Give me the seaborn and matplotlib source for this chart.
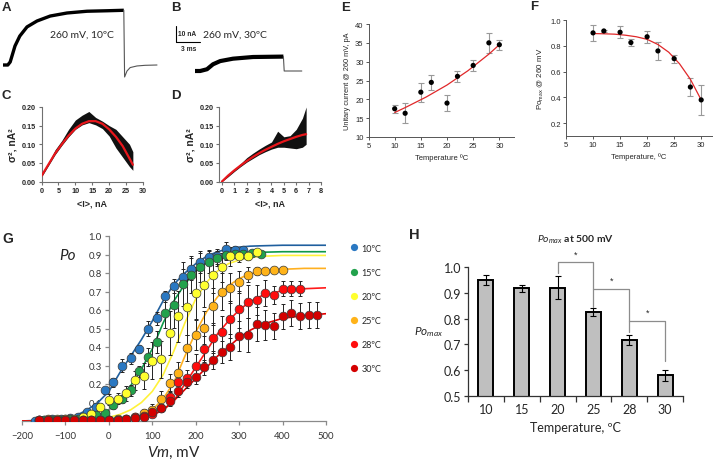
import matplotlib
matplotlib.use("Agg")
import matplotlib.pyplot as plt
from matplotlib.lines import Line2D
import seaborn as sns

# ---------------- data ----------------
# A / B: current traces (ms, nA)
a_time = [0, 0.6, 0.9, 1.5, 2.1, 3, 4.25, 5.9, 8, 10.5, 13, 15.1]
a_curr = [0, 0, 1.9, 11.9, 18.1, 23.8, 27.5, 30.6, 32.5, 33.6, 33.9, 34.2]
a_tail_time = [15.1, 15.2, 15.5, 15.9, 16.75, 17.75, 19.25]
a_tail_curr = [34.2, -7.5, -3.75, -1.6, -0.6, -0.2, 0]
b_time = [3.75, 4.4, 5.25, 6, 6.9, 8.5, 11, 14.8]
b_curr = [0, 0, 1.1, 4.2, 6.2, 7.7, 8.75, 9.0]
b_tail_time = [14.8, 14.9, 17.1]
b_tail_curr = [9.0, 0, 0]

# C / D: variance vs mean current
c_mean = [0, 2, 4, 6, 8, 10, 12, 14, 16, 18, 20, 22, 24, 26, 27]
c_lo = [0.012, 0.042, 0.072, 0.097, 0.12, 0.14, 0.152, 0.158, 0.152, 0.142, 0.122, 0.09, 0.065, 0.04, 0.03]
c_hi = [0.018, 0.05, 0.085, 0.11, 0.14, 0.165, 0.178, 0.188, 0.172, 0.162, 0.15, 0.14, 0.12, 0.10, 0.08]
c_fit = [0.015, 0.045, 0.075, 0.10, 0.123, 0.142, 0.155, 0.162, 0.162, 0.155, 0.14, 0.12, 0.095, 0.062, 0.045]
d_mean = [0, 0.5, 1, 1.5, 2, 2.5, 3, 3.5, 4, 4.5, 5, 5.5, 6, 6.5, 6.8]
d_lo = [0.0, 0.013, 0.027, 0.04, 0.052, 0.062, 0.072, 0.08, 0.087, 0.092, 0.092, 0.09, 0.088, 0.092, 0.10]
d_hi = [0.004, 0.019, 0.033, 0.048, 0.064, 0.076, 0.087, 0.097, 0.106, 0.135, 0.12, 0.123, 0.14, 0.17, 0.20]
d_fit = [0.0, 0.016, 0.03, 0.043, 0.055, 0.066, 0.076, 0.085, 0.093, 0.101, 0.108, 0.114, 0.12, 0.125, 0.127]

# E: unitary current vs temperature
e_temp = [10, 12, 15, 17, 20, 22, 25, 28, 30]
e_curr = [17.5, 16.3, 21.9, 24.5, 19.0, 26.1, 29.0, 35.0, 34.5]
e_err = [1.0, 2.7, 2.5, 2.0, 2.2, 1.4, 1.5, 2.6, 1.3]
e_fit_t = [10, 12, 14, 16, 18, 20, 22, 24, 26, 28, 30]
e_fit = [16.5, 17.8, 19.2, 20.6, 22.2, 23.8, 25.7, 27.6, 29.8, 32.0, 34.5]

# F: Po max vs temperature
f_temp = [10, 12, 15, 17, 20, 22, 25, 28, 30]
f_po = [0.90, 0.915, 0.905, 0.825, 0.87, 0.76, 0.70, 0.48, 0.38]
f_err = [0.065, 0.01, 0.045, 0.03, 0.045, 0.07, 0.03, 0.07, 0.115]
f_fit_t = [10, 12, 14, 16, 18, 20, 22, 24, 26, 28, 30]
f_fit = [0.895, 0.893, 0.89, 0.882, 0.87, 0.85, 0.81, 0.75, 0.66, 0.54, 0.38]

# G: Po-V curves
g_labels = ["10ºC", "15ºC", "20ºC", "25ºC", "28ºC", "30ºC"]
g_colors = ["#2A78C2", "#22A24C", "#FFFF2E", "#FFB319", "#FF0D0D", "#D40000"]
g_line_colors = ["#1F5F9E", "#0E9A49", "#FFF23A", "#FFB020", "#FF1A1A", "#E00000"]
g_vm = [
    list(range(-170, 311, 20)),
    list(range(-150, 351, 20)),
    list(range(-160, 341, 20)),
    list(range(-160, 401, 20)),
    list(range(-160, 441, 20)),
    list(range(-160, 481, 20)),
]
g_po = [
    [0.0, 0.005, 0.01, 0.01, 0.015, 0.02, 0.05, 0.075, 0.165, 0.21, 0.30, 0.34, 0.39,
     0.50, 0.555, 0.675, 0.73, 0.78, 0.82, 0.86, 0.885, 0.89, 0.93, 0.925, 0.925],
    [0.005, 0.005, 0.005, 0.01, 0.01, 0.015, 0.03, 0.045, 0.085, 0.12, 0.165, 0.27, 0.345,
     0.425, 0.585, 0.625, 0.74, 0.79, 0.83, 0.86, 0.88, 0.90, 0.905, 0.905, 0.91, 0.905],
    [0.005, 0.005, 0.01, 0.01, 0.01, 0.02, 0.04, 0.075, 0.115, 0.12, 0.15, 0.22, 0.245,
     0.325, 0.335, 0.475, 0.565, 0.615, 0.69, 0.735, 0.79, 0.83, 0.89, 0.89, 0.89, 0.915],
    [0.005, 0.01, 0.005, 0.01, 0.005, 0.005, 0.005, 0.005, 0.005, 0.01, 0.01, 0.02, 0.045,
     0.06, 0.12, 0.205, 0.26, 0.395, 0.465, 0.505, 0.62, 0.70, 0.72, 0.75, 0.79, 0.81,
     0.81, 0.815, 0.815],
    [0.005, 0.005, 0.005, 0.005, 0.005, 0.005, 0.005, 0.005, 0.005, 0.005, 0.01, 0.02,
     0.025, 0.04, 0.07, 0.13, 0.21, 0.235, 0.30, 0.39, 0.45, 0.48, 0.55, 0.605, 0.645,
     0.655, 0.69, 0.68, 0.715, 0.715, 0.715],
    [0.005, 0.005, 0.005, 0.005, 0.005, 0.005, 0.005, 0.005, 0.005, 0.005, 0.01, 0.015,
     0.02, 0.05, 0.07, 0.11, 0.16, 0.21, 0.24, 0.29, 0.33, 0.375, 0.40, 0.46, 0.465,
     0.525, 0.52, 0.515, 0.565, 0.585, 0.57, 0.575, 0.575],
]
g_err = [
    [0, 0.005, 0.005, 0.005, 0.01, 0.01, 0.015, 0.02, 0.02, 0.025, 0.035, 0.03, 0.02,
     0.04, 0.035, 0.03, 0.04, 0.04, 0.06, 0.06, 0.04, 0.04, 0.04, 0.02, 0.01],
    [0.005, 0.005, 0.005, 0.005, 0.005, 0.005, 0.01, 0.01, 0.02, 0.02, 0.03, 0.03, 0.05,
     0.06, 0.08, 0.12, 0.12, 0.10, 0.08, 0.06, 0.04, 0.03, 0.02, 0.01, 0.01, 0.01],
    [0.005, 0.005, 0.005, 0.01, 0.01, 0.01, 0.015, 0.02, 0.03, 0.03, 0.04, 0.05, 0.07,
     0.10, 0.10, 0.12, 0.14, 0.15, 0.14, 0.12, 0.10, 0.08, 0.05, 0.03, 0.02, 0.01],
    [0.005, 0.005, 0.005, 0.005, 0.005, 0.005, 0.005, 0.005, 0.005, 0.005, 0.01, 0.01,
     0.02, 0.03, 0.04, 0.05, 0.06, 0.07, 0.08, 0.09, 0.10, 0.10, 0.08, 0.06, 0.04, 0.02,
     0.01, 0.01, 0.01],
    [0.005, 0.005, 0.005, 0.005, 0.005, 0.005, 0.005, 0.005, 0.005, 0.005, 0.01, 0.01,
     0.01, 0.02, 0.02, 0.03, 0.03, 0.04, 0.06, 0.07, 0.08, 0.09, 0.10, 0.10, 0.09, 0.08,
     0.07, 0.05, 0.04, 0.04, 0.04],
    [0.005, 0.005, 0.005, 0.005, 0.005, 0.005, 0.005, 0.005, 0.005, 0.005, 0.01, 0.01,
     0.01, 0.02, 0.02, 0.03, 0.03, 0.03, 0.04, 0.04, 0.05, 0.06, 0.07, 0.08, 0.09, 0.09,
     0.08, 0.07, 0.07, 0.07, 0.07, 0.07, 0.07],
]
fit_vm = [-200, -150, -100, -75, -50, -25, 0, 25, 50, 75, 100, 125, 150, 175, 200, 225,
          250, 275, 300, 325, 350, 400, 450, 500]
g_fit = [
    [0.0, 0.005, 0.015, 0.03, 0.06, 0.10, 0.16, 0.26, 0.35, 0.44, 0.54, 0.65, 0.74, 0.80,
     0.85, 0.89, 0.915, 0.93, 0.94, 0.945, 0.947, 0.95, 0.95, 0.95],
    [0.0, 0.002, 0.005, 0.008, 0.015, 0.03, 0.06, 0.12, 0.19, 0.28, 0.39, 0.53, 0.65, 0.74,
     0.81, 0.855, 0.88, 0.895, 0.905, 0.91, 0.912, 0.915, 0.915, 0.915],
    [0.0, 0.001, 0.003, 0.005, 0.008, 0.012, 0.02, 0.035, 0.06, 0.10, 0.16, 0.25, 0.38,
     0.53, 0.66, 0.75, 0.81, 0.85, 0.87, 0.885, 0.89, 0.895, 0.895, 0.895],
    [0.0, 0.0, 0.001, 0.002, 0.003, 0.004, 0.005, 0.008, 0.015, 0.03, 0.06, 0.12, 0.21,
     0.35, 0.48, 0.59, 0.67, 0.73, 0.77, 0.795, 0.81, 0.82, 0.825, 0.825],
    [0.0, 0.0, 0.001, 0.001, 0.002, 0.002, 0.003, 0.005, 0.01, 0.018, 0.03, 0.06, 0.11,
     0.20, 0.29, 0.38, 0.47, 0.54, 0.60, 0.645, 0.675, 0.705, 0.715, 0.72],
    [0.0, 0.0, 0.001, 0.001, 0.002, 0.002, 0.003, 0.005, 0.01, 0.018, 0.035, 0.06, 0.11,
     0.17, 0.23, 0.29, 0.35, 0.40, 0.45, 0.49, 0.52, 0.555, 0.57, 0.58],
]

# H: Po max at 500 mV
h_temp = ["10", "15", "20", "25", "28", "30"]
h_po = [0.95, 0.917, 0.92, 0.826, 0.718, 0.58]
h_err = [0.02, 0.012, 0.045, 0.017, 0.02, 0.022]

# ---------------- figure ----------------
sns.set_style("ticks")
plt.rcParams["font.family"] = ["Liberation Sans", "DejaVu Sans"]
plt.rcParams["mathtext.fontset"] = "custom"
plt.rcParams["mathtext.rm"] = "Lato"
plt.rcParams["mathtext.it"] = "Lato:italic"
plt.rcParams["mathtext.bf"] = "Lato:bold"

W, H = 713, 464
fig = plt.figure(figsize=(W / 100, H / 100), dpi=100)


def rect(l, t, r, b):
    return [l / W, 1 - b / H, (r - l) / W, (b - t) / H]


def style(ax, color, lw=0.8, size=5, length=2.5):
    sns.despine(ax=ax)
    for s in ("left", "bottom"):
        ax.spines[s].set_color(color)
        ax.spines[s].set_linewidth(lw)
    ax.tick_params(color=color, width=lw, length=length, pad=1.5, labelsize=size)


def letter(x, y, s, size=9.5):
    fig.text(x / W, 1 - y / H, s, fontsize=size, fontweight="bold", va="top", ha="left")


# A
axA = fig.add_axes(rect(0, 0, 165, 90))
axA.set_xlim(-0.375, 20.25)
axA.set_ylim(-15, 41.25)
axA.axis("off")
axA.plot(a_time, a_curr, color="black", lw=2.4, solid_capstyle="butt")
axA.plot(a_tail_time, a_tail_curr, color="#555555", lw=0.8)
axA.text(9.9, 19.4, "260 mV, 10ºC", fontsize=7.5, family="Lato", ha="center", va="center")

# B
axB = fig.add_axes(rect(165, 0, 310, 90))
axB.set_xlim(0, 18.125)
axB.set_ylim(-11.25, 45)
axB.axis("off")
axB.plot(b_time, b_curr, color="black", lw=3.0, solid_capstyle="butt")
axB.plot(b_tail_time, b_tail_curr, color="#555555", lw=0.8)
axB.plot([1.375, 1.375, 4.375], [28.1, 18.1, 18.1], color="black", lw=0.8)
axB.text(1.6, 23.6, "10 nA", fontsize=4.8, fontweight="bold", va="center")
axB.text(2.9, 14.2, "3 ms", fontsize=4.8, fontweight="bold", va="center", ha="center")
axB.text(8.75, 23.1, "260 mV, 30ºC", fontsize=7.5, family="Lato", ha="center", va="center")

letter(2, 2, "A")
letter(171, 2, "B")

# C
axC = fig.add_axes(rect(41.5, 108, 143, 182.5))
axC.fill_between(c_mean, c_lo, c_hi, color="#111111", lw=0)
sns.lineplot(x=c_mean, y=c_fit, ax=axC, color="#E8161B", lw=1.6, zorder=3)
axC.set_xlim(0, 30)
axC.set_ylim(0, 0.2)
axC.set_xticks(range(0, 31, 5))
axC.set_yticks([0, 0.05, 0.10, 0.15, 0.20])
axC.set_yticklabels(["0.00", "0.05", "0.10", "0.15", "0.20"])
style(axC, "#707070", size=5.2)
for t in axC.get_xticklabels() + axC.get_yticklabels():
    t.set_fontweight("bold")
axC.set_xlabel("<I>, nA", fontsize=6.5, fontweight="bold", labelpad=3)
axC.set_ylabel("σ², nA²", fontsize=7.5, fontweight="bold", labelpad=3)
letter(2, 90, "C")

# D
axD = fig.add_axes(rect(219.5, 108, 321, 182.5))
axD.fill_between(d_mean, d_lo, d_hi, color="#111111", lw=0)
sns.lineplot(x=d_mean, y=d_fit, ax=axD, color="#E8161B", lw=1.6, zorder=3)
axD.set_xlim(-0.2, 8)
axD.set_ylim(0, 0.2)
axD.set_xticks(range(0, 9))
axD.set_yticks([0, 0.05, 0.10, 0.15, 0.20])
axD.set_yticklabels(["0.00", "0.05", "0.10", "0.15", "0.20"])
style(axD, "#707070", size=5.2)
for t in axD.get_xticklabels() + axD.get_yticklabels():
    t.set_fontweight("bold")
axD.set_xlabel("<I>, nA", fontsize=6.5, fontweight="bold", labelpad=3)
axD.set_ylabel("σ², nA²", fontsize=7.5, fontweight="bold", labelpad=3)
letter(171, 90, "D")

# E
axE = fig.add_axes(rect(368.5, 25, 514, 138))
axE.errorbar(e_temp, e_curr, yerr=e_err, fmt="none", ecolor="#999999", elinewidth=0.8,
             capsize=2, capthick=0.8, zorder=1)
sns.lineplot(x=e_fit_t, y=e_fit, ax=axE, color="#E0282A", lw=0.9, zorder=2)
sns.scatterplot(x=e_temp, y=e_curr, ax=axE, color="black", s=14, edgecolor="none", zorder=3)
axE.set_xlim(5, 32.8)
axE.set_ylim(10, 40)
axE.set_xticks(range(5, 31, 5))
axE.set_yticks(range(10, 41, 5))
style(axE, "#555555", lw=0.7, size=5.5, length=2)
axE.set_xlabel("Temperature ºC", fontsize=5.5, labelpad=3)
axE.set_ylabel("Unitary current @ 260 mV, pA", fontsize=5.3, labelpad=3)
letter(341, 2, "E")

# F
axF = fig.add_axes(rect(566, 21, 712, 137))
axF.errorbar(f_temp, f_po, yerr=f_err, fmt="none", ecolor="#999999", elinewidth=0.8,
             capsize=2, capthick=0.8, zorder=1)
sns.lineplot(x=f_fit_t, y=f_fit, ax=axF, color="#E0282A", lw=0.9, zorder=2)
sns.scatterplot(x=f_temp, y=f_po, ax=axF, color="black", s=14, edgecolor="none", zorder=3)
axF.set_xlim(5, 32)
axF.set_ylim(0.1, 1.0)
axF.set_xticks(range(5, 31, 5))
axF.set_yticks([0.2, 0.4, 0.6, 0.8, 1.0])
style(axF, "#555555", lw=0.7, size=5.5, length=2)
axF.set_xlabel("Temperature, ºC", fontsize=5.5, labelpad=3)
axF.set_ylabel("Po$_{\\rm max}$ @ 260 mV", fontsize=5.8, labelpad=3)
letter(530, 1, "F")

# G
axG = fig.add_axes(rect(22, 237, 326, 422))
for i in range(6):
    sns.lineplot(x=fit_vm, y=g_fit[i], ax=axG, color=g_line_colors[i], lw=1.2, zorder=2)
for i in range(6):
    axG.errorbar(g_vm[i], g_po[i], yerr=g_err[i], fmt="none", ecolor="#222222",
                 elinewidth=0.7, capsize=1.6, capthick=0.7, zorder=3)
    sns.scatterplot(x=g_vm[i], y=g_po[i], ax=axG, color=g_colors[i], s=40,
                    edgecolor="#3a3a3a", linewidth=0.5, zorder=4)
axG.set_xlim(-200, 500)
axG.set_ylim(0, 1.0)
sns.despine(ax=axG)
axG.spines["left"].set_position(("data", 0))
for s in ("left", "bottom"):
    axG.spines[s].set_color("#8a8a8a")
    axG.spines[s].set_linewidth(0.9)
axG.set_xticks(range(-200, 501, 100))
axG.set_yticks([0.1, 0.2, 0.3, 0.4, 0.5, 0.6, 0.7, 0.8, 0.9, 1.0])
axG.set_yticklabels(["0.1", "0.2", "0.3", "0.4", "0.5", "0.6", "0.7", "0.8", "0.9", "1.0"])
axG.tick_params(color="#8a8a8a", width=0.9, length=3, pad=2, labelsize=6.8)
axG.tick_params(axis="x", pad=4)
for t in axG.get_xticklabels() + axG.get_yticklabels():
    t.set_family("Lato")
    t.set_color("#333333")
axG.set_xlabel("$Vm$, mV", fontsize=11, family="Lato", labelpad=3)
fig.text(68 / W, 1 - 256 / H, "Po", fontsize=11, family="Lato", style="italic",
         ha="center", va="center")
handles = [Line2D([], [], marker="o", ls="none", markersize=5.2, markerfacecolor=c,
                  markeredgecolor="none") for c in g_colors]
axG.legend(handles, g_labels, loc="upper left", bbox_to_anchor=(346 / W, 1 - 240 / H),
           bbox_transform=fig.transFigure, frameon=False,
           prop={"family": "Lato", "size": 6.5}, labelspacing=1.68, handletextpad=0.4,
           handlelength=0.8, borderpad=0)
letter(2, 232, "G", size=10)

# H
axH = fig.add_axes(rect(468, 268, 683, 397))
sns.barplot(x=h_temp, y=h_po, ax=axH, color="#BFBFBF", edgecolor="black", linewidth=1.4,
            width=0.42, saturation=1)
axH.errorbar(range(6), h_po, yerr=h_err, fmt="none", ecolor="black", elinewidth=0.8,
             capsize=2, capthick=0.8)
axH.set_xlim(-0.5, 5.5)
axH.set_ylim(0.5, 1.0)
axH.set_yticks([0.5, 0.6, 0.7, 0.8, 0.9, 1.0])
sns.despine(ax=axH)
for s in ("left", "bottom"):
    axH.spines[s].set_color("#333333")
    axH.spines[s].set_linewidth(0.9)
axH.set_xticks([x - 0.5 for x in range(7)], minor=True)
axH.tick_params(axis="x", which="major", length=0, pad=5, labelsize=9)
axH.tick_params(axis="x", which="minor", length=4, color="#333333", width=0.9)
axH.tick_params(axis="y", length=3, color="#333333", width=0.9, pad=2, labelsize=9)
for t in axH.get_xticklabels() + axH.get_yticklabels():
    t.set_family("Lato")
axH.set_xlabel("Temperature, ºC", fontsize=9, family="Lato", labelpad=4)
axH.set_ylabel("$Po_{max}$", fontsize=8.5, rotation=0, labelpad=11, va="center")
axH.set_title("$Po_{max}$ at 500 mV", fontsize=7.5, family="Lato", fontweight="bold", pad=18)
# significance brackets
br = dict(color="#8c8c8c", lw=0.9, clip_on=False)
axH.plot([2, 2, 3, 3], [0.975, 1.021, 1.021, 0.846], **br)
axH.plot([3, 4, 4], [0.916, 0.916, 0.749], **br)
axH.plot([4, 5, 5], [0.792, 0.792, 0.636], **br)
for x, y in [(2.5, 1.033), (3.5, 0.93), (4.5, 0.806)]:
    axH.text(x, y, "*", ha="center", va="bottom", fontsize=6.5, clip_on=False)
letter(409, 228, "H", size=10.5)

fig.savefig("out.png", dpi=100)
